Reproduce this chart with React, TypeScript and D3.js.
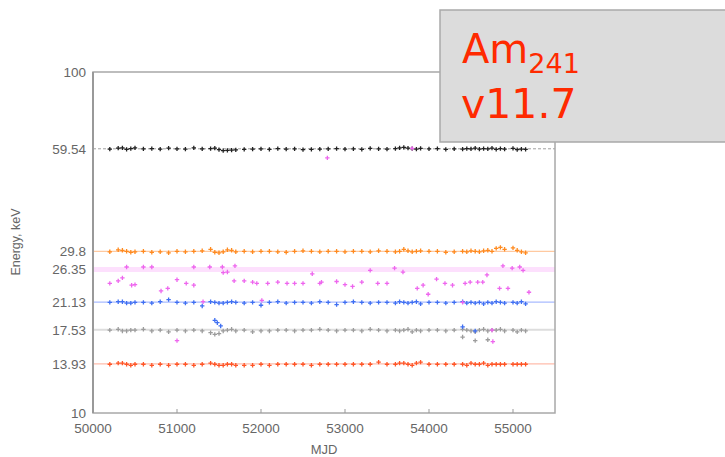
import React from "react";
import * as d3 from "d3";

// observation dates (MJD) shared by the regular line series
const mjd = [50200,50300,50350,50400,50450,50500,50600,50700,50800,50900,51000,51100,51200,51300,51400,51450,51500,51550,51600,51650,51700,51800,51900,52000,52100,52200,52300,52400,52500,52600,52700,52800,52900,53000,53100,53200,53300,53400,53500,53600,53650,53700,53750,53800,53850,53900,54000,54100,54200,54300,54400,54450,54500,54550,54600,54650,54700,54750,54800,54850,54900,55000,55050,55100,55150];

const e5954 = [59.4,59.8,59.9,59.3,59.6,59.9,59.5,59.6,59.4,59.8,59.5,59.4,59.9,59.5,59.6,59.8,59.2,58.8,58.9,59.0,59.1,59.3,59.4,59.5,59.3,59.6,59.4,59.5,59.2,59.3,59.4,59.5,59.6,59.4,59.5,59.3,59.7,59.5,59.4,59.6,59.9,60.1,59.8,59.6,59.4,59.7,59.5,59.6,59.3,59.5,59.4,59.6,59.5,59.8,59.4,59.6,59.5,59.8,59.3,59.6,59.4,59.7,59.2,59.4,59.3];
const e298 = [29.7,30.1,30.0,29.8,29.6,29.7,29.8,29.6,29.7,29.5,29.8,29.7,29.8,29.9,30.2,29.6,29.5,29.7,30.1,30.0,29.7,29.8,29.7,29.8,29.8,29.7,29.6,29.8,29.9,29.8,29.7,29.8,29.8,29.7,29.8,29.8,29.7,29.9,29.8,29.7,29.8,30.2,29.9,29.7,29.8,29.9,29.8,29.8,29.6,29.7,29.8,29.7,29.9,29.8,29.7,29.9,30.0,29.8,30.4,30.6,30.2,30.5,30.0,29.7,29.5];
const e2113 = [21.1,21.2,21.2,21.0,21.0,21.1,21.1,21.0,21.2,21.5,21.1,21.0,21.1,20.6,21.2,21.1,21.0,21.0,21.1,21.2,21.1,21.0,21.1,20.7,21.1,21.2,21.0,21.1,21.1,21.0,21.2,21.1,20.8,21.1,21.2,21.1,21.0,21.1,21.1,21.0,21.2,21.1,21.0,21.1,21.2,20.9,21.1,21.1,21.0,21.1,21.2,21.0,21.1,21.0,21.1,20.9,21.1,21.0,21.2,21.1,21.0,21.1,21.0,21.2,20.9];
const e1753 = [17.5,17.6,17.4,17.4,17.5,17.5,17.6,17.4,17.5,17.3,17.5,17.4,17.5,17.4,17.2,17.0,17.1,17.4,17.5,17.6,17.4,17.5,17.3,17.4,17.4,17.5,17.5,17.4,17.5,17.5,17.6,17.5,17.4,17.5,17.5,17.4,17.6,17.5,17.4,17.5,17.4,17.5,17.6,17.3,17.5,17.4,17.5,17.5,17.4,17.5,17.6,17.5,17.4,17.3,17.5,17.6,17.4,17.5,17.5,17.6,17.4,17.5,17.3,17.5,17.4];
const e1393 = [13.9,14.0,14.0,13.9,13.8,13.9,13.9,13.8,13.9,13.8,13.9,13.9,13.8,13.9,14.0,13.9,13.8,13.8,13.9,13.9,13.8,13.8,13.8,13.9,13.8,13.9,13.9,13.9,13.9,13.8,13.9,13.9,13.9,13.9,13.9,13.9,13.9,14.1,13.9,13.9,14.0,14.0,13.9,13.8,14.0,14.1,13.9,13.9,13.9,13.9,13.9,13.8,14.0,13.9,13.9,14.0,13.8,13.9,13.9,13.9,13.9,13.9,13.9,13.9,13.9];

// stray points
const blueXMjd = [51450, 51480, 51520, 54400, 54550];
const blueXE = [18.7, 18.4, 18.0, 17.9, 17.4];
const grayXMjd = [54400, 54550, 54700];
const grayXE = [16.7, 16.3, 16.4];

// 26.35 keV line - scattered fits
const pinkMjd = [50200,50300,50350,50400,50460,50500,50600,50700,50810,50890,51000,51000,51110,51200,51200,51310,51390,51540,51550,51600,51690,51680,51800,51900,51950,52080,52200,52310,52400,52500,52610,52700,52720,52790,52900,53000,53090,53200,53300,53390,53500,53590,53690,53800,53860,53930,53990,54090,54190,54280,54430,54490,54580,54640,54690,54840,54880,54940,54990,55080,55120,55190,52010,54400,54750,54760];
const pinkE = [24.0,24.4,24.9,26.8,23.7,23.8,26.8,26.8,22.8,23.2,24.6,16.3,24.0,26.8,23.7,21.2,26.8,26.8,25.8,25.9,27.0,24.4,24.4,24.2,24.0,24.0,24.2,24.0,24.0,24.0,25.6,24.0,24.2,56.0,24.3,23.8,23.5,24.2,26.2,24.0,24.0,26.6,25.9,59.7,23.2,23.7,22.3,24.7,24.0,23.7,24.0,24.2,24.2,24.2,25.4,23.2,27.0,23.2,26.6,26.8,26.2,22.6,21.4,21.1,17.5,16.2];

const lineE = [59.54, 29.8, 26.35, 21.13, 17.53, 13.93];
const tickE = [100, 59.54, 29.8, 26.35, 21.13, 17.53, 13.93, 10];
const tickMjd = [50000, 51000, 52000, 53000, 54000, 55000];

const x = d3.scaleLinear().domain([50000, 55500]).range([93, 555]);
const y = d3.scaleLog().domain([10, 100]).range([413, 72]);

const lineStyle = [
  { stroke: "#a0a0a0", width: 1, dash: "3,2" },
  { stroke: "#ffc9a0", width: 1.2, dash: "" },
  { stroke: "#fde0fd", width: 5, dash: "" },
  { stroke: "#a9bbff", width: 1.2, dash: "" },
  { stroke: "#dddddd", width: 2, dash: "" },
  { stroke: "#ffbcab", width: 1.2, dash: "" },
];

const plus = "M-2.2,0H2.2M0,-2.2V2.2";

function Marks({ xs, es, color }: { xs: number[]; es: number[]; color: string }) {
  return (
    <g stroke={color} strokeWidth={1.3} fill="none">
      {xs.map((m, i) => (
        <path key={i} d={plus} transform={`translate(${x(m)},${y(es[i])})`} />
      ))}
    </g>
  );
}

export default function App() {
  const font = "'Liberation Sans', Arial, Helvetica, sans-serif";
  return (
    <svg width={725} height={457} style={{ position: "absolute", left: 0, top: 0, background: "#fff" }}>
      {lineE.map((e, i) => (
        <line key={e} x1={x(50000)} x2={x(55500)} y1={y(e)} y2={y(e)}
          stroke={lineStyle[i].stroke} strokeWidth={lineStyle[i].width} strokeDasharray={lineStyle[i].dash} />
      ))}
      <Marks xs={mjd} es={e5954} color="#222" />
      <Marks xs={mjd} es={e298} color="#ff8a1f" />
      <Marks xs={mjd} es={e1753} color="#9c9c9c" />
      <Marks xs={grayXMjd} es={grayXE} color="#9c9c9c" />
      <Marks xs={mjd} es={e2113} color="#3f6ff2" />
      <Marks xs={blueXMjd} es={blueXE} color="#3f6ff2" />
      <Marks xs={mjd} es={e1393} color="#ff5526" />
      <Marks xs={pinkMjd} es={pinkE} color="#ee66ee" />

      <rect x={93} y={72} width={462} height={341} fill="none" stroke="#a8a8a8" strokeWidth={1.5} />
      <line x1={93} x2={93} y1={72} y2={413} stroke="#999" strokeWidth={2} />

      <g fill="#666" fontFamily={font} fontSize={13.5}>
        {tickE.map((e) => (
          <text key={e} x={86} y={y(e)} dy="0.35em" textAnchor="end">{e}</text>
        ))}
        {tickMjd.map((m) => (
          <g key={m}>
            <line x1={x(m)} x2={x(m)} y1={413} y2={409} stroke="#999" />
            <text x={x(m)} y={433} textAnchor="middle">{m}</text>
          </g>
        ))}
        <text x={324} y={454} textAnchor="middle" fontSize={13}>MJD</text>
        <text transform="translate(20,242) rotate(-90)" textAnchor="middle" fontSize={12.5}>Energy, keV</text>
      </g>

      <rect x={440} y={10} width={300} height={132} fill="#dcdcdc" stroke="#a9a9a9" strokeWidth={1.5} />
      <g fill="#ff2a00" fontFamily="'DejaVu Sans', sans-serif">
        <text x={462} y={63} fontSize={40}>Am<tspan fontSize={27} dy={10}>241</tspan></text>
        <text x={461} y={118} fontSize={41}>v11.7</text>
      </g>
    </svg>
  );
}
